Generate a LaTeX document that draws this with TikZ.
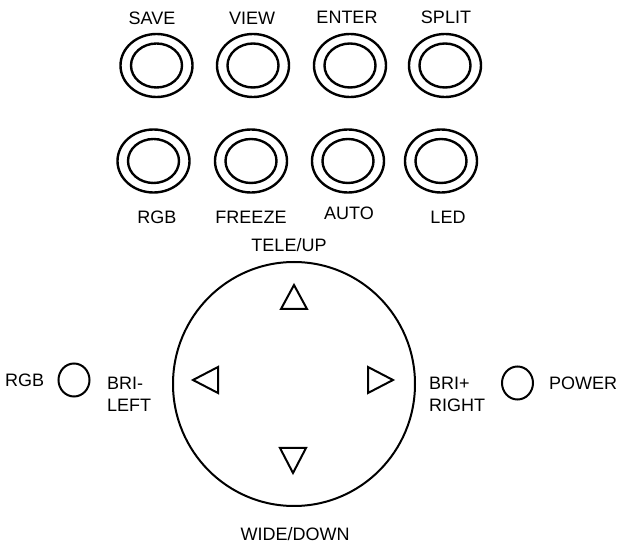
\documentclass[tikz,border=0pt]{standalone}
\usepackage{fontspec}
\setmainfont{Liberation Sans}
\usetikzlibrary{shapes.geometric}
\begin{document}
\begin{tikzpicture}[x=1pt,y=-1pt,
  lbl/.style={inner sep=0pt,anchor=base,font=\fontsize{18}{21}\selectfont},
  lbll/.style={inner sep=0pt,anchor=base west,font=\fontsize{18}{21}\selectfont},
  outerbtn/.style={draw,ellipse,line width=2.4pt,inner sep=0pt,minimum width=72pt,minimum height=63pt},
  innerbtn/.style={draw,ellipse,line width=2.4pt,inner sep=0pt,minimum width=51pt,minimum height=44pt},
  ledbtn/.style={draw,ellipse,line width=2pt,inner sep=0pt,minimum width=31pt,minimum height=33pt},
  pad/.style={draw,ellipse,line width=2pt,inner sep=0pt,minimum width=242pt,minimum height=244pt},
  tri/.style={line width=2pt,line join=miter}]
\useasboundingbox (0,0) rectangle (622,545);
% top row labels
\node[lbl] (lsave) at (152,25) {SAVE};
\node[lbl] (lview) at (252,25) {VIEW};
\node[lbl] (lenter) at (347,23.5) {ENTER};
\node[lbl] (lsplit) at (446,23.5) {SPLIT};
% top row buttons
\foreach \n/\x in {save/156.5,view/253,enter/350,split/445}{
  \node[outerbtn] (o\n) at (\x,65.5) {};
  \node[innerbtn] (i\n) at (\x,65.5) {};
}
% second row buttons
\foreach \n/\x in {rgb/153.5,freeze/251,auto/348,led/441}{
  \node[outerbtn] (o\n) at (\x,161) {};
  \node[innerbtn] (i\n) at (\x,161) {};
}
\node[lbl] (lrgb) at (157,223.5) {RGB};
\node[lbl] (lfreeze) at (251,223.5) {FREEZE};
\node[lbl] (lauto) at (349,220) {AUTO};
\node[lbl] (lled) at (448,223.5) {LED};
\node[lbl] (ltele) at (289,251.5) {TELE/UP};
% pad
\node[pad] (pad) at (294,384) {};
\draw[tri] (294,285) -- (281,309) -- (307,309) -- cycle;
\draw[tri] (280,448) -- (306,448) -- (293,473) -- cycle;
\draw[tri] (193,380) -- (218,367) -- (218,393) -- cycle;
\draw[tri] (368,367) -- (368,393) -- (393,380) -- cycle;
\node[lbl] (lwide) at (295,540) {WIDE/DOWN};
% side
\node[lbll] (lrgb2) at (5,386.5) {RGB};
\node[ledbtn] (cleft) at (74,380) {};
\node[lbll] (lbrim) at (107,389.5) {BRI-};
\node[lbll] (lleft) at (107,411.5) {LEFT};
\node[lbll] (lbrip) at (429,389.5) {BRI+};
\node[lbll] (lright) at (429,411.5) {RIGHT};
\node[ledbtn] (cright) at (517.5,383) {};
\node[lbll] (lpower) at (549,389.5) {POWER};
\end{tikzpicture}
\end{document}
